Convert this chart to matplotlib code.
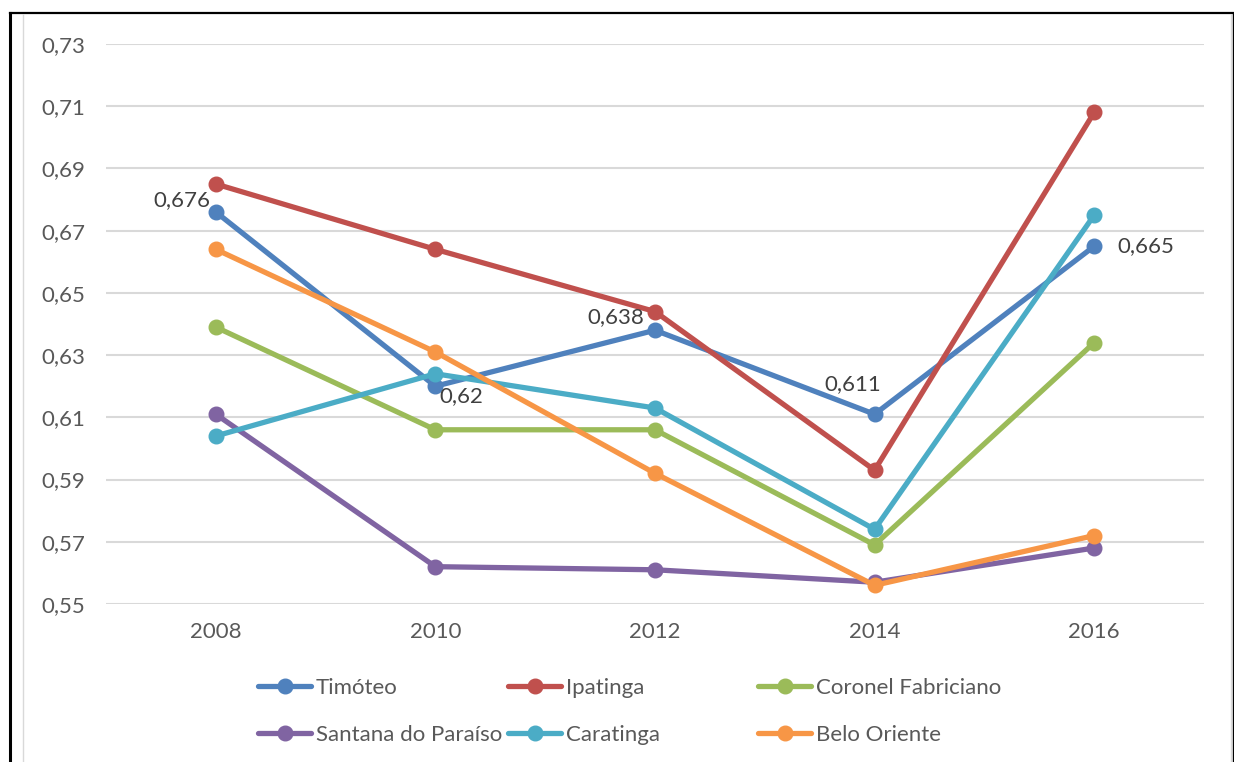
import matplotlib
matplotlib.use("Agg")
import matplotlib.pyplot as plt
from matplotlib.lines import Line2D

plt.rcParams["font.family"] = ["Lato", "DejaVu Sans"]

years = ["2008", "2010", "2012", "2014", "2016"]
timoteo = [0.676, 0.620, 0.638, 0.611, 0.665]
ipatinga = [0.685, 0.664, 0.644, 0.593, 0.708]
coronel = [0.639, 0.606, 0.606, 0.569, 0.634]
santana = [0.611, 0.562, 0.561, 0.557, 0.568]
caratinga = [0.604, 0.624, 0.613, 0.574, 0.675]
belo = [0.664, 0.631, 0.592, 0.556, 0.572]
yticks = [0.55, 0.57, 0.59, 0.61, 0.63, 0.65, 0.67, 0.69, 0.71, 0.73]

series = [("Timóteo", timoteo, "#4F81BD"),
          ("Ipatinga", ipatinga, "#C0504D"),
          ("Coronel Fabriciano", coronel, "#9BBB59"),
          ("Santana do Paraíso", santana, "#8064A2"),
          ("Caratinga", caratinga, "#4BACC6"),
          ("Belo Oriente", belo, "#F79646")]

TXT = "#595959"
FS = 16
W, H = 1234, 762
fig = plt.figure(figsize=(W / 100, H / 100), dpi=100)
ax = fig.add_axes([106 / W, 1 - 604 / H, (1204 - 106) / W, (604 - 44) / H])

x = list(range(len(years)))
handles = []
for name, vals, col in series:
    ln, = ax.plot(x, vals, color=col, lw=3.8, marker="o", ms=10.5,
                  solid_capstyle="round", clip_on=False, label=name, zorder=3)
    handles.append(ln)

# data labels for Timóteo
lab_offsets = [(-5, 12, "right"), (4, -10, "left"), (-11, 13, "right"),
               (-22, 30, "center"), (23, 0, "left")]
for i, (dx, dy, ha) in enumerate(lab_offsets):
    ax.annotate(f"{timoteo[i]:.3f}".rstrip("0").replace(".", ","),
                (x[i], timoteo[i]), xytext=(dx, dy), textcoords="offset pixels",
                ha=ha, va="center", fontsize=FS, color="#404040", zorder=4)

ax.set_xlim(-0.5, 4.5)
ax.set_ylim(0.55, 0.73)
ax.set_yticks(yticks)
ax.set_yticklabels([f"{v:.2f}".replace(".", ",") for v in yticks])
ax.set_xticks(x)
ax.set_xticklabels(years)
ax.tick_params(length=0, labelsize=FS, labelcolor=TXT)
ax.tick_params(axis="y", pad=15)
ax.tick_params(axis="x", pad=13)
ax.grid(axis="y", color="#D9D9D9", lw=1.5)
ax.set_axisbelow(True)
for s in ax.spines.values():
    s.set_visible(False)

# legend: three columns placed like the Excel layout
col_x = [258, 508, 758]
for c in range(3):
    hs = [handles[c], handles[c + 3]]
    fig.legend(handles=hs, labels=[h.get_label() for h in hs],
               loc="upper left", bbox_to_anchor=(col_x[c] / W, 1 - 678 / H),
               frameon=False, fontsize=FS, labelcolor=TXT, handlelength=2.4,
               handletextpad=0.2, labelspacing=1.2, borderpad=0, borderaxespad=0)

# chart frame
fig.add_artist(Line2D([23 / W, 23 / W], [0, 1 - 15 / H], color="#D9D9D9", lw=1))
fig.add_artist(Line2D([1231 / W, 1231 / W], [0, 1 - 15 / H], color="#D9D9D9", lw=1))
fig.add_artist(Line2D([10 / W, 10 / W], [0, 1 - 13 / H], color="black", lw=2.2))
fig.add_artist(Line2D([10 / W, 1233 / W], [1 - 13 / H, 1 - 13 / H], color="black", lw=1.6))
fig.add_artist(Line2D([1233 / W, 1233 / W], [0, 1 - 13 / H], color="black", lw=1))

fig.savefig("out.png", dpi=100)
